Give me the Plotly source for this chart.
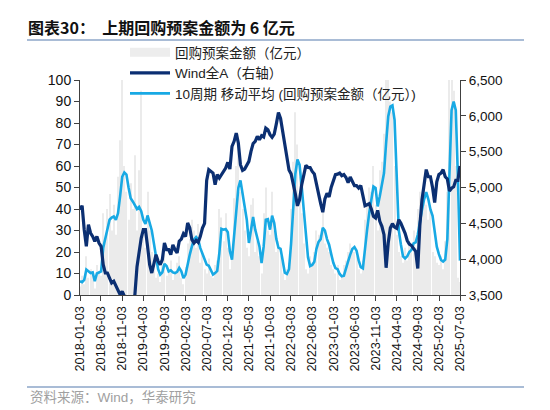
import pandas as pd
import plotly.graph_objects as go

# half-monthly sampling from 2018-01-03 to 2025-07-03
dates = pd.date_range("2018-01-03", "2025-07-03", periods=181)

tick_labels = ["2018-01-03", "2018-06-03", "2018-11-03", "2019-04-03", "2019-09-03",
               "2020-02-03", "2020-07-03", "2020-12-03", "2021-05-03", "2021-10-03",
               "2022-03-03", "2022-08-03", "2023-01-03", "2023-06-03", "2023-11-03",
               "2024-04-03", "2024-09-03", "2025-02-03", "2025-07-03"]

# 回购预案金额（亿元）
buyback = [4, 9, 5, 18, 8, 12, 10, 3, 14, 11,
           9, 38, 25, 40, 47, 30, 42, 28, 55, 72,
           100, 60, 48, 35, 52, 40, 65, 30, 58, 95,
           28, 22, 48, 30, 20, 12, 8, 10, 6, 14,
           22, 9, 12, 16, 7, 10, 15, 18, 8, 5,
           13, 24, 26, 35, 30, 22, 33, 15, 20, 12,
           10, 17, 9, 8, 14, 16, 40, 36, 25, 38,
           22, 12, 20, 45, 60, 75, 48, 40, 30, 22,
           18, 42, 45, 20, 25, 18, 10, 38, 50, 30,
           28, 48, 30, 20, 25, 18, 10, 7, 12, 15,
           40, 62, 85, 70, 55, 38, 24, 12, 10, 18,
           15, 20, 30, 28, 26, 40, 24, 22, 20, 14,
           12, 10, 14, 7, 9, 14, 16, 20, 24, 22,
           20, 18, 12, 10, 16, 35, 42, 50, 48, 60,
           42, 30, 58, 62, 75, 100, 100, 90, 85, 60,
           28, 20, 18, 15, 22, 16, 25, 20, 30, 22,
           40, 48, 45, 55, 42, 35, 40, 20, 18, 15,
           14, 18, 12, 25, 48, 100, 100, 95, 60, 8,
           6]

# Wind全A（右轴）
wind_a = [4690, 4746, 4411, 4179, 4481, 4365, 4318, 4249, 4318, 4225,
          4179, 3923, 3807, 3807, 3737, 3667, 3691, 3621, 3551, 3505,
          3551, 3480, 3420, 3380, 3330, 3400, 3505, 3895, 4086, 4295,
          4411, 4411, 4179, 3923, 3807, 3946, 4063, 3970, 3923, 3993,
          4225, 4132, 4132, 4063, 4200, 4132, 4086, 4250, 4280, 4355,
          4318, 4505, 4435, 4272, 4225, 4262, 4235, 4318, 4435, 4500,
          5100, 5248, 5225, 5202, 5040, 5180, 5132, 5180, 5225, 5272,
          5350, 5258, 5574, 5644, 5760, 5621, 5318, 5240, 5258, 5318,
          5365, 5505, 5612, 5644, 5714, 5667, 5723, 5705, 5830, 5807,
          5737, 5700, 5744, 5888, 6046, 5963, 5784, 5574, 5411, 5244,
          5190, 5060, 4911, 4744, 4830, 5035, 5176, 5308, 5279, 5278,
          5224, 5190, 5051, 4897, 4774, 4655, 4841, 4918, 4870, 5004,
          5081, 5179, 5186, 5202, 5165, 5180, 5140, 5068, 5146, 5086,
          5026, 5026, 4993, 5026, 4867, 4746, 4760, 4774, 4700, 4597,
          4574, 4681, 4528, 4458, 4342, 3880, 4225, 4435, 4495, 4448,
          4430, 4551, 4500, 4440, 4360, 4260, 4210, 4190, 4140, 4110,
          3870, 4480, 4830, 5050, 5250, 5150, 5150, 5000, 4790, 5080,
          5180, 5200, 5250, 5150, 5120, 4950, 4990, 5010, 5100, 5100,
          5300]

# 10周期 移动平均 (回购预案金额（亿元）)
ma10 = [6.4, 6, 7, 11.8, 11, 10.2, 10.5, 6.4, 10, 10.5,
        11, 22, 26, 30, 35, 36, 36.5, 35, 38, 46,
        55, 57, 56, 50, 45, 43.5, 42, 40, 41, 39,
        35, 33, 37, 33, 30, 24, 17, 12, 9.5, 10.5,
        14.5, 13.5, 11, 11.5, 10.5, 10.2, 10.8, 12.6, 11, 7.9,
        9.5, 14.9, 18.8, 22.6, 25.8, 27, 25.8, 21.8, 19, 17.2,
        14.1, 13.6, 11.5, 9.5, 10.2, 11.2, 19.5, 30.8, 30.4, 30.7,
        29.2, 20.3, 16.4, 28.8, 39.7, 49.8, 53.3, 47.5, 41.2, 35,
        24.2, 29.6, 36.3, 30.4, 26.8, 22.6, 14.9, 22.6, 35, 35.3,
        30.4, 36.9, 33.5, 26, 22, 21.5, 16, 10.4, 9.8, 12,
        24, 40.5, 56.3, 63, 60.5, 50.5, 39.7, 26, 17.5, 13.5,
        14, 15.5, 21.5, 24.7, 26, 31.3, 30, 26, 23.4, 19,
        15, 12.5, 12, 9.8, 8.7, 9, 11.8, 15.6, 18.8, 21.4,
        22.3, 20.6, 16.1, 13, 12.4, 22.3, 30.4, 38.1, 43.5, 50.5,
        49.8, 41.2, 45.9, 50.5, 56.7, 70.7, 83, 87.6, 88.2, 81.5,
        52.1, 30, 23.5, 18, 17, 18, 20, 21, 24, 24.5,
        28, 34.4, 39.7, 44.5, 47.8, 44.5, 39.8, 36.8, 29, 22.5,
        19, 16.3, 15.6, 16.5, 26, 60, 86, 90, 86, 55,
        16]

axis_col = "#404040"
tick_font = dict(family="Liberation Sans, Arial", size=13.5, color="#111111")

fig = go.Figure()
fig.add_trace(go.Bar(x=dates, y=buyback, name="回购预案金额（亿元）",
                     marker=dict(color="#EBEBEB", line=dict(width=0)),
                     showlegend=False))
# legend stand-in for the bars (wide grey swatch)
fig.add_trace(go.Scatter(x=[None], y=[None], mode="lines", name="回购预案金额（亿元）",
                         line=dict(color="#EDEDED", width=9)))
fig.add_trace(go.Scatter(x=dates, y=wind_a, mode="lines", name="Wind全A（右轴）",
                         line=dict(color="#0B2F72", width=3.2), yaxis="y2"))
fig.add_trace(go.Scatter(x=dates, y=ma10, mode="lines",
                         name="10周期 移动平均 (回购预案金额（亿元）)",
                         line=dict(color="#18A9E4", width=2.6)))

fig.update_layout(
    width=550, height=410,
    margin=dict(l=72, r=98, t=72, b=123),
    paper_bgcolor="white", plot_bgcolor="white",
    bargap=0.5,
    title=dict(text="<b>图表30：  上期回购预案金额为 6 亿元</b>",
               x=20 / 550, xanchor="left", y=1 - 20 / 410, yanchor="middle",
               font=dict(family="Noto Sans CJK SC", size=16, color="#111111")),
    xaxis=dict(type="date", range=["2018-01-03", "2025-07-03"],
               tickmode="array", tickvals=tick_labels, ticktext=tick_labels,
               tickangle=-90, ticks="outside", ticklen=5, tickcolor=axis_col,
               showline=True, linecolor=axis_col, showgrid=False, zeroline=False,
               tickfont=dict(family="Liberation Sans, Arial", size=12.8, color="#111111")),
    yaxis=dict(range=[0, 100], dtick=10, ticks="outside", ticklen=5, tickcolor=axis_col,
               showline=True, linecolor=axis_col, showgrid=False, zeroline=False,
               tickfont=dict(family="Liberation Sans, Arial", size=14, color="#111111")),
    yaxis2=dict(range=[3500, 6500], dtick=500, tickformat=",", overlaying="y", side="right",
                ticks="outside", ticklen=5, tickcolor=axis_col,
                showline=True, linecolor=axis_col, showgrid=False, zeroline=False,
                tickfont=tick_font),
    legend=dict(x=(117 - 72) / 380, y=(287 - 29) / 215, xanchor="left", yanchor="top",
                bgcolor="rgba(0,0,0,0)", itemwidth=40, tracegroupgap=0,
                font=dict(family="Liberation Sans, Noto Sans CJK SC", size=13.5, color="#222222")),
    shapes=[
        dict(type="line", xref="paper", yref="paper",
             x0=(19 - 72) / 380, x1=(516 - 72) / 380, y0=(287 - 32) / 215, y1=(287 - 32) / 215,
             line=dict(color="#A9BCD6", width=2)),
        dict(type="line", xref="paper", yref="paper",
             x0=(19 - 72) / 380, x1=(516 - 72) / 380, y0=(287 - 379) / 215, y1=(287 - 379) / 215,
             line=dict(color="#A9BCD6", width=2)),
    ],
    annotations=[
        dict(text="资料来源：Wind，华泰研究", xref="paper", yref="paper",
             x=(20 - 72) / 380, y=(287 - 389) / 215, xanchor="left", yanchor="middle",
             showarrow=False,
             font=dict(family="Liberation Sans, Noto Sans CJK SC", size=13.5, color="#A0A0A0")),
    ],
)

fig.write_html("out.html")
